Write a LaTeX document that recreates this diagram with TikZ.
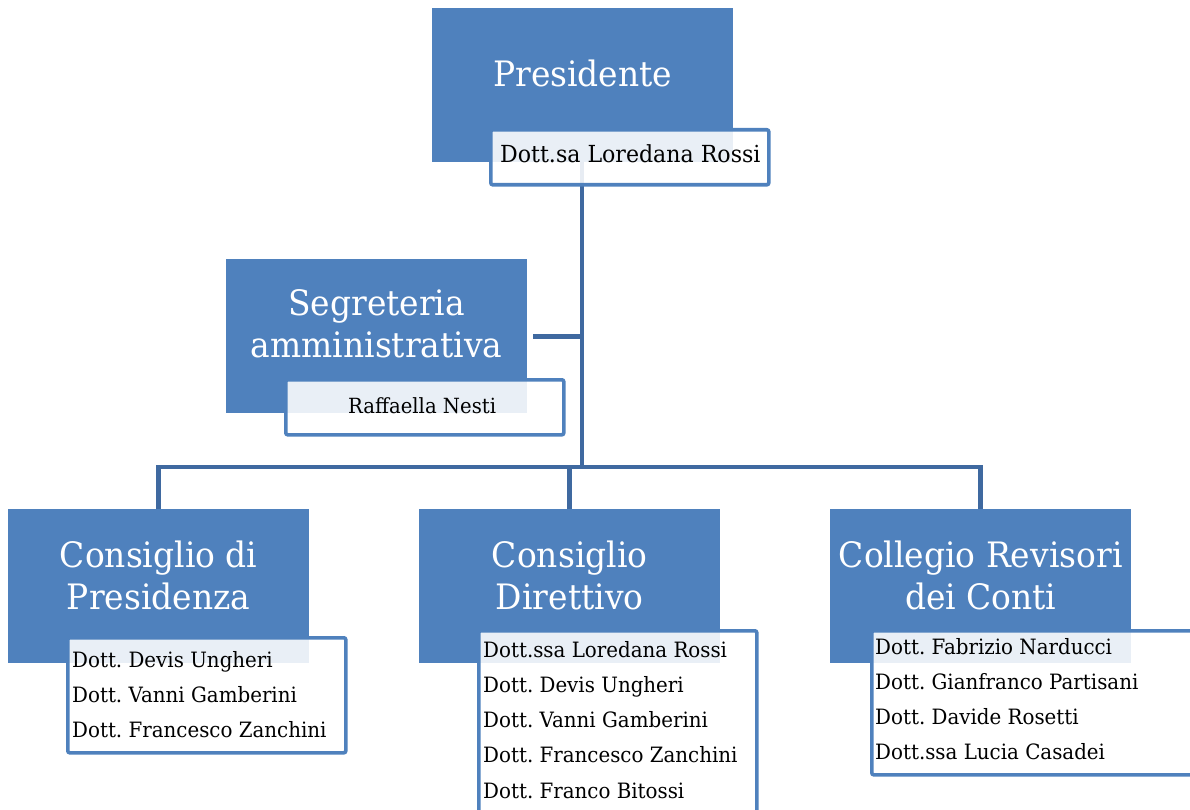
\documentclass[tikz,border=0pt]{standalone}
\usepackage{fontspec}
\setmainfont[FakeStretch=0.94]{DejaVu Serif}
\frenchspacing
\definecolor{boxblue}{HTML}{4F81BD}
\definecolor{linkblue}{HTML}{3F69A0}
\tikzset{
  bluebox/.style={fill=boxblue, draw=none, minimum width=301pt, minimum height=154pt, inner sep=0pt, anchor=north west},
  namebox/.style={fill=white, fill opacity=0.88, draw=boxblue, draw opacity=1, line width=3.6pt, rounded corners=2pt, inner sep=0pt, anchor=north west},
  conn/.style={draw=linkblue, line width=4.8pt},
  title/.style={text=white, anchor=base, inner sep=0pt, font=\fontsize{35}{42}\selectfont},
  names/.style={text=black, anchor=base west, inner sep=0pt, font=\fontsize{21.1}{35.3}\selectfont},
}
\newcommand{\lines}[1]{\begin{tabular}[t]{@{}l@{}}#1\end{tabular}}
\newcommand{\tlines}[1]{\begin{tabular}[t]{@{}c@{}}#1\end{tabular}}
\begin{document}
\begin{tikzpicture}[x=1pt,y=-1pt]
\useasboundingbox (0,0) rectangle (1190,810);
\clip (0,0) rectangle (1190,810);
% blue boxes
\node[bluebox] (pres) at (432,8) {};
\node[bluebox] (seg) at (226,259) {};
\node[bluebox] (cp) at (8,509) {};
\node[bluebox] (cd) at (419,509) {};
\node[bluebox] (cr) at (830,509) {};
% connectors
\coordinate (bus) at (582,467);
\draw[conn] (pres.south -| bus) -- (bus);
\draw[conn] ([xshift=6pt]seg.east) -- (seg.east -| bus);
\draw[conn] (cp.north) |- (bus) -| (cr.north);
\draw[conn] (cd.north) -- (cd.north |- bus);
% titles
\node[title] (presT) at ([yshift=-79pt]pres.north) {Presidente};
\node[title] (segT) at ([yshift=-56pt]seg.north) {\tlines{Segreteria\\amministrativa}};
\node[title] (cpT) at ([yshift=-58pt]cp.north) {\tlines{Consiglio di\\Presidenza}};
\node[title] (cdT) at ([yshift=-58pt]cd.north) {\tlines{Consiglio\\Direttivo}};
\node[title] (crT) at ([yshift=-58pt]cr.north) {\tlines{Collegio Revisori\\dei Conti}};
% name boxes
\node[namebox, minimum width=278pt, minimum height=55pt] (presN) at (489,128) {};
\node[namebox, minimum width=278pt, minimum height=55pt] (segN) at (284,378) {};
\node[namebox, minimum width=278pt, minimum height=115pt] (cpN) at (66,636) {};
\node[namebox, minimum width=278pt, minimum height=200pt] (cdN) at (477,629) {};
\node[namebox, minimum width=360pt, minimum height=144pt] (crN) at (870,629) {};
% names
\node[names, font=\fontsize{23.5}{28}\selectfont] (presL) at (500,163) {Dott.sa Loredana Rossi};
\node[names, font=\fontsize{20.9}{28}\selectfont] (segL) at (348,413) {Raffaella Nesti};
\node[names] (cpL) at (72,667) {\lines{Dott. Devis Ungheri\\Dott. Vanni Gamberini\\Dott. Francesco Zanchini}};
\node[names] (cdL) at (483,657) {\lines{Dott.ssa Loredana Rossi\\Dott. Devis Ungheri\\Dott. Vanni Gamberini\\Dott. Francesco Zanchini\\Dott. Franco Bitossi}};
\node[names] (crL) at (875,654) {\lines{Dott. Fabrizio Narducci\\Dott. Gianfranco Partisani\\Dott. Davide Rosetti\\Dott.ssa Lucia Casadei}};
\end{tikzpicture}
\end{document}
